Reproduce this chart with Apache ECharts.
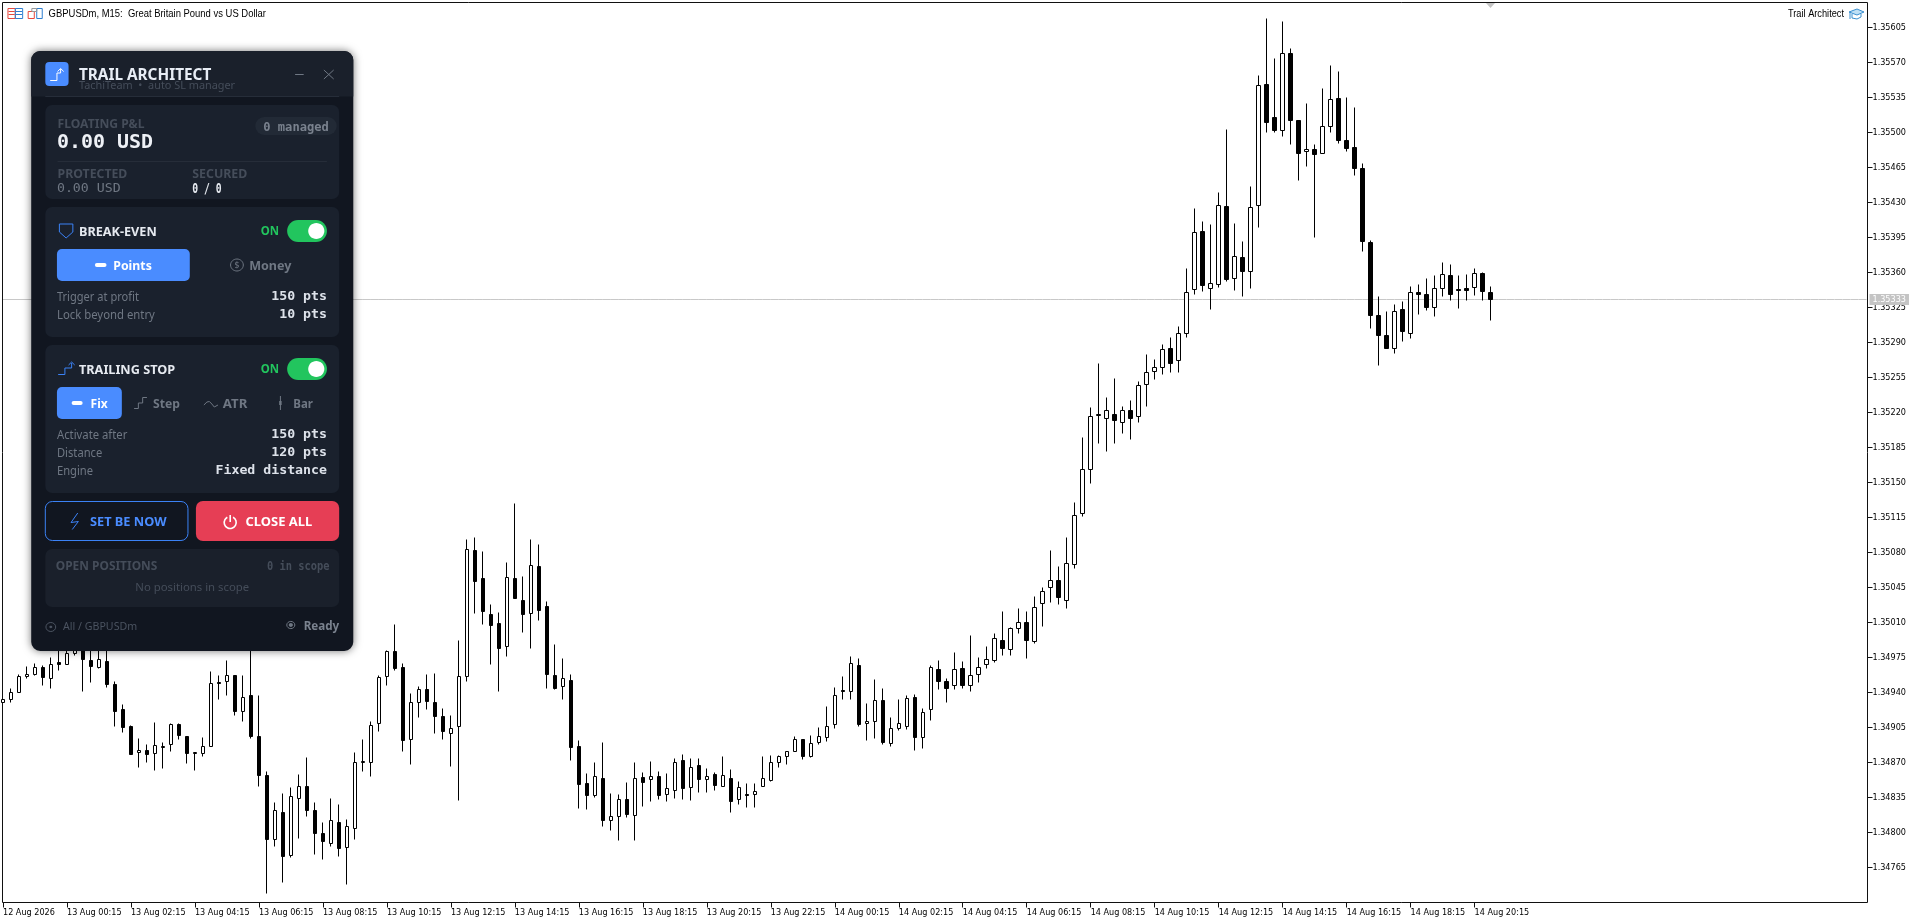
<!DOCTYPE html>
<html><head><meta charset="utf-8">
<style>html,body{margin:0;padding:0;background:#fff}#c{width:1920px;height:923px}</style>
<script src="https://cdn.jsdelivr.net/npm/echarts@6/dist/echarts.min.js"></script>
</head><body><div id="c"></div>
<script>
const timeTicks=['12 Aug 2026','13 Aug 00:15','13 Aug 02:15','13 Aug 04:15','13 Aug 06:15','13 Aug 08:15','13 Aug 10:15','13 Aug 12:15','13 Aug 14:15','13 Aug 16:15','13 Aug 18:15','13 Aug 20:15','13 Aug 22:15','14 Aug 00:15','14 Aug 02:15','14 Aug 04:15','14 Aug 06:15','14 Aug 08:15','14 Aug 10:15','14 Aug 12:15','14 Aug 14:15','14 Aug 16:15','14 Aug 18:15','14 Aug 20:15'];
const priceTicks=[1.34765,1.34800,1.34835,1.34870,1.34905,1.34940,1.34975,1.35010,1.35045,1.35080,1.35115,1.35150,1.35185,1.35220,1.35255,1.35290,1.35325,1.35360,1.35395,1.35430,1.35465,1.35500,1.35535,1.35570,1.35605];
const lastPrice=1.35333;
const opens=[1.34930,1.34933,1.34940,1.34956,1.34958,1.34965,1.34954,1.34970,1.34968,1.34979,
1.34982,1.34972,1.34965,1.34971,1.34948,1.34923,1.34906,1.34880,1.34882,1.34879,
1.34885,1.34888,1.34908,1.34896,1.34879,1.34879,1.34886,1.34950,1.34951,1.34957,
1.34921,1.34937,1.34896,1.34857,1.34793,1.34820,1.34777,1.34834,1.34846,1.34822,
1.34799,1.34789,1.34810,1.34785,1.34804,1.34870,1.34870,1.34909,1.34956,1.34981,
1.34965,1.34893,1.34930,1.34943,1.34930,1.34916,1.34899,1.34906,1.34956,1.35082,
1.35054,1.35018,1.35009,1.34986,1.35054,1.35032,1.35019,1.35066,1.35026,1.34957,
1.34946,1.34952,1.34886,1.34849,1.34837,1.34854,1.34812,1.34816,1.34833,1.34817,
1.34855,1.34853,1.34856,1.34838,1.34842,1.34872,1.34845,1.34867,1.34853,1.34858,
1.34846,1.34854,1.34833,1.34838,1.34838,1.34846,1.34852,1.34870,1.34876,1.34881,
1.34893,1.34876,1.34890,1.34895,1.34908,1.34942,1.34941,1.34967,1.34909,1.34911,
1.34932,1.34889,1.34904,1.34906,1.34935,1.34895,1.34923,1.34963,1.34951,1.34947,
1.34964,1.34947,1.34958,1.34968,1.34972,1.34992,1.34983,1.35004,1.35010,1.34991,
1.35029,1.35045,1.35052,1.35032,1.35068,1.35119,1.35163,1.35217,1.35214,1.35218,
1.35210,1.35222,1.35216,1.35248,1.35261,1.35265,1.35284,1.35272,1.35299,1.35343,
1.35401,1.35344,1.35348,1.35426,1.35354,1.35375,1.35361,1.35427,1.35548,1.35515,
1.35502,1.35579,1.35512,1.35481,1.35483,1.35479,1.35506,1.35534,1.35492,1.35485,
1.35464,1.35390,1.35317,1.35297,1.35284,1.35323,1.35299,1.35340,1.35338,1.35325,
1.35344,1.35357,1.35343,1.35344,1.35345,1.35359,1.35340];
const closes=[1.34933,1.34940,1.34956,1.34958,1.34965,1.34955,1.34968,1.34968,1.34979,1.34982,
1.34973,1.34966,1.34973,1.34948,1.34921,1.34905,1.34878,1.34882,1.34878,1.34887,
1.34886,1.34908,1.34897,1.34879,1.34880,1.34886,1.34949,1.34949,1.34957,1.34921,
1.34935,1.34896,1.34857,1.34793,1.34822,1.34776,1.34836,1.34846,1.34822,1.34799,
1.34791,1.34812,1.34784,1.34806,1.34870,1.34871,1.34907,1.34955,1.34981,1.34964,
1.34892,1.34930,1.34943,1.34931,1.34916,1.34901,1.34904,1.34956,1.35083,1.35051,
1.35021,1.35007,1.34984,1.35055,1.35034,1.35018,1.35067,1.35022,1.34958,1.34944,
1.34954,1.34885,1.34848,1.34837,1.34856,1.34812,1.34816,1.34833,1.34818,1.34854,
1.34850,1.34856,1.34837,1.34844,1.34870,1.34844,1.34865,1.34853,1.34856,1.34847,
1.34857,1.34831,1.34845,1.34837,1.34841,1.34854,1.34870,1.34876,1.34881,1.34893,
1.34876,1.34889,1.34896,1.34906,1.34937,1.34941,1.34969,1.34908,1.34911,1.34932,
1.34890,1.34904,1.34909,1.34934,1.34895,1.34920,1.34965,1.34951,1.34944,1.34963,
1.34947,1.34957,1.34965,1.34973,1.34994,1.34984,1.35004,1.35010,1.34992,1.35025,
1.35041,1.35052,1.35035,1.35069,1.35117,1.35163,1.35216,1.35218,1.35222,1.35212,
1.35222,1.35214,1.35247,1.35260,1.35265,1.35283,1.35269,1.35299,1.35340,1.35400,
1.35347,1.35349,1.35427,1.35353,1.35376,1.35361,1.35425,1.35547,1.35510,1.35502,
1.35579,1.35512,1.35479,1.35483,1.35478,1.35506,1.35533,1.35492,1.35484,1.35464,
1.35391,1.35317,1.35297,1.35284,1.35321,1.35301,1.35340,1.35338,1.35325,1.35344,
1.35358,1.35338,1.35342,1.35342,1.35359,1.35341,1.35333];
const highs=[1.34933,1.34944,1.34958,1.34966,1.34969,1.34967,1.34975,1.34984,1.34986,1.34990,
1.34990,1.34985,1.34985,1.34986,1.34951,1.34928,1.34907,1.34894,1.34888,1.34910,
1.34890,1.34909,1.34909,1.34896,1.34880,1.34895,1.34961,1.34957,1.34972,1.34957,
1.34957,1.34995,1.34937,1.34861,1.34830,1.34839,1.34845,1.34858,1.34875,1.34830,
1.34810,1.34834,1.34828,1.34813,1.34880,1.34893,1.34911,1.34957,1.34982,1.35008,
1.34969,1.34939,1.34946,1.34958,1.34959,1.34924,1.34917,1.34992,1.35093,1.35095,
1.35081,1.35028,1.35020,1.35070,1.35129,1.35056,1.35093,1.35088,1.35031,1.34988,
1.34974,1.34958,1.34892,1.34859,1.34870,1.34890,1.34839,1.34838,1.34850,1.34870,
1.34860,1.34871,1.34861,1.34859,1.34874,1.34878,1.34874,1.34874,1.34864,1.34860,
1.34876,1.34863,1.34851,1.34849,1.34849,1.34876,1.34877,1.34877,1.34881,1.34896,
1.34893,1.34897,1.34905,1.34926,1.34945,1.34956,1.34976,1.34974,1.34929,1.34953,
1.34944,1.34915,1.34933,1.34937,1.34938,1.34924,1.34967,1.34972,1.34954,1.34980,
1.34971,1.34997,1.34975,1.34986,1.34999,1.35021,1.35005,1.35024,1.35021,1.35036,
1.35045,1.35082,1.35066,1.35095,1.35130,1.35195,1.35225,1.35269,1.35235,1.35254,
1.35226,1.35232,1.35251,1.35278,1.35273,1.35288,1.35295,1.35306,1.35364,1.35424,
1.35411,1.35408,1.35440,1.35503,1.35409,1.35391,1.35446,1.35557,1.35614,1.35574,
1.35611,1.35584,1.35512,1.35529,1.35488,1.35544,1.35567,1.35561,1.35535,1.35525,
1.35469,1.35392,1.35336,1.35321,1.35328,1.35331,1.35346,1.35348,1.35354,1.35357,
1.35370,1.35368,1.35357,1.35358,1.35364,1.35360,1.35346];
const lows=[1.34930,1.34930,1.34940,1.34954,1.34957,1.34947,1.34944,1.34962,1.34968,1.34977,
1.34941,1.34950,1.34964,1.34945,1.34906,1.34900,1.34878,1.34865,1.34870,1.34862,
1.34864,1.34881,1.34893,1.34869,1.34862,1.34876,1.34886,1.34933,1.34937,1.34917,
1.34911,1.34894,1.34846,1.34739,1.34786,1.34750,1.34775,1.34794,1.34816,1.34778,
1.34773,1.34786,1.34776,1.34748,1.34793,1.34861,1.34856,1.34901,1.34947,1.34962,
1.34881,1.34868,1.34915,1.34923,1.34899,1.34893,1.34866,1.34832,1.34951,1.35019,
1.35008,1.34968,1.34941,1.34976,1.35034,1.35000,1.34984,1.35012,1.34944,1.34943,
1.34933,1.34872,1.34824,1.34823,1.34835,1.34806,1.34802,1.34792,1.34815,1.34792,
1.34826,1.34831,1.34833,1.34831,1.34834,1.34833,1.34832,1.34840,1.34840,1.34842,
1.34846,1.34820,1.34828,1.34825,1.34825,1.34846,1.34851,1.34865,1.34868,1.34881,
1.34873,1.34875,1.34888,1.34891,1.34904,1.34933,1.34933,1.34906,1.34892,1.34894,
1.34888,1.34886,1.34902,1.34903,1.34882,1.34884,1.34912,1.34943,1.34930,1.34943,
1.34944,1.34941,1.34950,1.34964,1.34970,1.34977,1.34977,1.34999,1.34974,1.34989,
1.35006,1.35030,1.35028,1.35024,1.35064,1.35116,1.35149,1.35189,1.35181,1.35189,
1.35199,1.35193,1.35210,1.35226,1.35253,1.35258,1.35260,1.35260,1.35295,1.35338,
1.35341,1.35323,1.35345,1.35351,1.35342,1.35336,1.35344,1.35405,1.35500,1.35500,
1.35496,1.35488,1.35452,1.35466,1.35395,1.35479,1.35500,1.35489,1.35481,1.35457,
1.35381,1.35304,1.35267,1.35284,1.35279,1.35291,1.35294,1.35318,1.35322,1.35316,
1.35336,1.35332,1.35324,1.35332,1.35337,1.35332,1.35312];

const SLOTS=234; // visible chart slots, the right part is the empty shift area
const categories=Array.from({length:SLOTS},(_,i)=>i%8===0&&timeTicks[i/8]?timeTicks[i/8]:'');
const candleData=opens.map((o,i)=>[o,closes[i],lows[i],highs[i]]);
const lastLine=categories.map(()=>lastPrice);

const mctx=document.createElement('canvas').getContext('2d');
const UI='"Noto Sans"',MONO='"DejaVu Sans Mono"',G='#6f7783',D='#454d5a',W='#e6eaf0',B='#4a8cff',GR='#22c55e';
let Z=100,K=1,DY=0;
function T(text,x0,x1,y,font,fill){
  mctx.font=font;const w=mctx.measureText(text).width;
  return {type:'text',silent:true,z:Z++,x:x0*K,y:y+DY,scaleX:(x1-x0)*K/w,style:{text:text,font:font,fill:fill,align:'left',verticalAlign:'middle'}};
}
function R(x,y,w,h,r,fill,stroke,lw,extra){
  return {type:'rect',silent:true,z:Z++,shape:{x:x*K,y,width:w*K,height:h,r:r},style:Object.assign({fill:fill||'transparent',stroke:stroke||null,lineWidth:lw||1},extra||{})};
}
function P(pts,stroke,lw){
  return {type:'polyline',silent:true,z:Z++,shape:{points:pts.map(p=>[p[0]*K,p[1]])},style:{stroke:stroke,lineWidth:lw||1,fill:null}};
}
function E(cx,cy,rx,ry,fill,stroke,lw){
  return {type:'ellipse',silent:true,z:Z++,shape:{cx:cx*K,cy,rx:rx*K,ry},style:{fill:fill||'transparent',stroke:stroke||null,lineWidth:lw||1}};
}
const els=[];
// chart frame and chart window decorations
els.push(R(2.5,2.5,1865,900,0,null,'#111',1));
els[0].z=1;
els.push({type:'polygon',silent:true,z:5,shape:{points:[[1486,3],[1495,3],[1490.5,8]]},style:{fill:'#c4c4c4'}});
els.push(T('Trail Architect',1788,1844,13.5,'11px "Liberation Sans"','#000'));
// graduation cap
els.push({type:'polygon',silent:true,z:Z++,shape:{points:[[1849,12],[1857,9],[1864,12],[1857,15]]},style:{fill:'#bfe0f5',stroke:'#3a8fd0',lineWidth:1}});
els.push(P([[1852,14],[1852,18],[1857,19],[1861,17],[1861,14]],'#3a8fd0'),P([[1850,12],[1850,19]],'#3a8fd0'));

K=3/2.45; // panel layout was measured on crops 2.45x wide
els.push(T('GBPUSDm, M15:  Great Britain Pound vs US Dollar',48.6/K,266/K,13.5,'11px "Liberation Sans"','#000'));
els.push(R(6.5,8.5,6,10,0,null,'#e8483c'),R(12.5,8.5,6,10,0,null,'#2f7fd0'),P([[7,11.5],[12,11.5]],'#e8483c'),P([[7,14.5],[12,14.5]],'#e8483c'),P([[13,11.5],[18,11.5]],'#2f7fd0'),P([[13,14.5],[18,14.5]],'#2f7fd0'));
els.push(R(23,11.5,5,7,0,null,'#e8483c'),R(30,8.5,4.5,10,0,null,'#2f7fd0'),R(26,8.5,4,3,0,null,'#999'));

DY=0.8;
// panel
els.push(R(25.5,51,263,600,9,'#111620',null,1,{shadowBlur:9,shadowColor:'rgba(0,0,0,0.55)'}));
els.push(R(25.5,51,263,45.5,[9,9,0,0],'#1a202b'));
els.push(P([[37,96.5],[277,96.5]],'#262d39'));
els.push(R(37,62,19,24,4,B));
els.push(P([[41,80.5],[46.5,80.5],[46.5,73],[49.5,73],[49.5,69]],'#fff'),P([[47,71.5],[49.5,68.5],[52,71.5]],'#fff'));
els.push(T('TRAIL ARCHITECT',64.5,172.5,74.5,'bold 16px '+UI,'#e8edf5'));
els.push(T('TachiTeam  •  auto SL manager',64.5,192,85.5,'11px '+UI,'#454d5a'));
els.push(P([[241,74.5],[248,74.5]],G),P([[264.5,70],[272.5,79]],G),P([[272.5,70],[264.5,79]],G));
// stats card
els.push(R(37,105,240,94,7,'#1a212d'));
els.push(T('FLOATING P&L',47,118,124,'bold 11.5px '+UI,D));
els.push(T('0.00 USD',46.5,125,142,'bold 20px '+MONO,'#eef1f6'));
els.push(R(208.5,117,66.5,18,9,'#222a36'));
els.push(T('0 managed',215,268.5,127,'bold 12px '+MONO,'#7a828e'));
els.push(P([[47,161.5],[267,161.5]],'#262d39'));
els.push(T('PROTECTED',47,104,174,'bold 11.5px '+UI,D),T('SECURED',157,202,174,'bold 11.5px '+UI,D));
els.push(T('0.00 USD',46.5,98.5,187.5,'13px '+MONO,G),T('0 / 0',157,181,189,'bold 14px '+MONO,W));
// break-even card
els.push(R(37,207,240,130,7,'#1a212d'));
els.push(P([[48.5,224],[59.5,224],[59.5,232],[54,238],[48.5,232],[48.5,224]],'#3b82f6'));
els.push(T('BREAK-EVEN',64.5,128,231,'bold 13px '+UI,W));
els.push(T('ON',213,228,231,'bold 12.5px '+UI,GR));
els.push(R(234.5,220,32.5,22,11,GR),E(258.3,231,6.6,8,'#fff'));
els.push(R(46.5,249,108.5,32,5,B),R(77.5,263,9.5,4,2,'#fff'));
els.push(T('Points',92.5,124,265.5,'bold 12.5px '+UI,'#fff'));
els.push(E(193.5,265,5.2,6,null,G));
els.push(T('$',191.5,195.5,265,'9px '+UI,G));
els.push(T('Money',203.5,238,266,'bold 12.5px '+UI,G));
els.push(T('Trigger at profit',46.5,113.5,297,'12px '+UI,G),T('150 pts',221.5,267,296,'bold 12px '+MONO,'#dde2ea'));
els.push(T('Lock beyond entry',46.5,126.5,315,'12px '+UI,G),T('10 pts',228,267,314,'bold 12px '+MONO,'#dde2ea'));
// trailing card
els.push(R(37,345,240,148,7,'#1a212d'));
els.push(P([[47.5,374.5],[53,374.5],[53,368],[58.5,368],[58.5,363]],'#3b82f6'),P([[56,365],[58.5,362],[61,365]],'#3b82f6'));
els.push(T('TRAILING STOP',64.5,143,369,'bold 13px '+UI,W));
els.push(T('ON',213,228,369,'bold 12.5px '+UI,GR));
els.push(R(234.5,358,32.5,22,11,GR),E(258.3,369,6.6,8,'#fff'));
els.push(R(46.5,387,53,32,5,B),R(58.5,401,9,4,2,'#fff'));
els.push(T('Fix',74,88,403.5,'bold 12.5px '+UI,'#fff'));
els.push(P([[109.5,408.5],[113,408.5],[113,403],[116.5,403],[116.5,397.5],[120,397.5]],G));
els.push(T('Step',125,147,404,'bold 12.5px '+UI,G));
els.push(P([[166.5,405],[169,402],[171,401.5],[173,404],[175,407],[178,405]],G));
els.push(T('ATR',182,202,404,'bold 12.5px '+UI,G));
els.push(P([[229,396],[229,401]],G),R(228,401,2,4,0,G),P([[229,405],[229,410]],G));
els.push(T('Bar',239.5,255.5,404,'bold 12.5px '+UI,G));
els.push(T('Activate after',46.5,104,435,'12px '+UI,G),T('150 pts',221.5,267,434,'bold 12px '+MONO,'#dde2ea'));
els.push(T('Distance',46.5,83.5,453,'12px '+UI,G),T('120 pts',221.5,267,452,'bold 12px '+MONO,'#dde2ea'));
els.push(T('Engine',46.5,76,471,'12px '+UI,G),T('Fixed distance',176,267,470,'bold 12px '+MONO,'#dde2ea'));
// action buttons
els.push(R(37,501.5,116.5,39,7,null,'#3b82f6',1));
els.push(P([[63.5,513],[58,522.5],[64,521.5],[59,529.5]],'#3b82f6'));
els.push(T('SET BE NOW',73.5,136,521.5,'bold 13px '+UI,B));
els.push(R(160,501,117,40,7,'#e63e55'));
els.push({type:'arc',silent:true,z:Z++,shape:{cx:188*K,cy:522.5,r:6,startAngle:-Math.PI/2+0.5,endAngle:-Math.PI/2-0.5,clockwise:true},style:{stroke:'#fff',lineWidth:1.6,fill:null}});
els.push(P([[188,515],[188,522]],'#fff',1.6));
els.push(T('CLOSE ALL',200.5,255,521.5,'bold 13px '+UI,'#fff'));
// open positions
els.push(R(37,549,240,58,7,'#1a202b'));
els.push(T('OPEN POSITIONS',45.5,128.5,566,'bold 11.5px '+UI,D));
els.push(T('0 in scope',218,269,566,'bold 12px '+MONO,D));
els.push(T('No positions in scope',110.5,203.5,587,'11.5px '+UI,D));
// footer
els.push(E(41.5,627,4,4.5,null,'#4b5360'),E(41.5,627,1.2,1.2,'#4b5360'));
els.push(T('All / GBPUSDm',51.5,112,626,'11.5px '+UI,'#4b5360'));
els.push(E(237.5,625,3.3,3.6,null,G),E(237.5,625,1.7,1.9,G));
els.push(T('Ready',248,277,626,'bold 11.5px '+UI,'#7a828e'));
K=1;DY=0;

const AX='"DejaVu Sans Condensed","Liberation Sans"';
const chart=echarts.init(document.getElementById('c'),null,{renderer:'canvas'});
chart.setOption({
  animation:false,backgroundColor:'#fff',
  grid:{left:2.5,top:2.5,width:1864,height:900,show:false},
  xAxis:{type:'category',boundaryGap:false,data:categories,
    axisLine:{show:false},splitLine:{show:false},
    axisTick:{show:true,length:5,interval:i=>i%8===0&&!!timeTicks[i/8],lineStyle:{color:'#111',width:1}},
    axisLabel:{show:true,interval:i=>i%8===0&&!!timeTicks[i/8],align:'left',margin:6,color:'#000',fontSize:9,fontFamily:AX,hideOverlap:false}},
  yAxis:{type:'value',position:'right',offset:1,min:1.3473,max:1.3563,scale:true,
    axisLine:{show:false},splitLine:{show:false},
    axisTick:{show:true,length:5,customValues:priceTicks,lineStyle:{color:'#111',width:1}},
    axisLabel:{show:true,margin:5,customValues:priceTicks,padding:[2,0,0,0],formatter:v=>v.toFixed(5),color:'#000',fontSize:9,fontFamily:AX}},
  series:[
   {type:'line',data:lastLine,showSymbol:false,symbol:'none',silent:true,z:1,
    lineStyle:{color:'#c8c8c8',width:1},
    endLabel:{show:true,distance:3,formatter:()=>lastPrice.toFixed(5),color:'#fff',backgroundColor:'#c4c4c4',padding:[1,3,1,3],fontSize:9,fontFamily:AX}},
   {type:'candlestick',data:candleData,barWidth:4,z:2,
    itemStyle:{color:'#fff',color0:'#000',borderColor:'#000',borderColor0:'#000',borderColorDoji:'#000',borderWidth:1}}],
  graphic:{elements:els}
});
</script></body></html>
